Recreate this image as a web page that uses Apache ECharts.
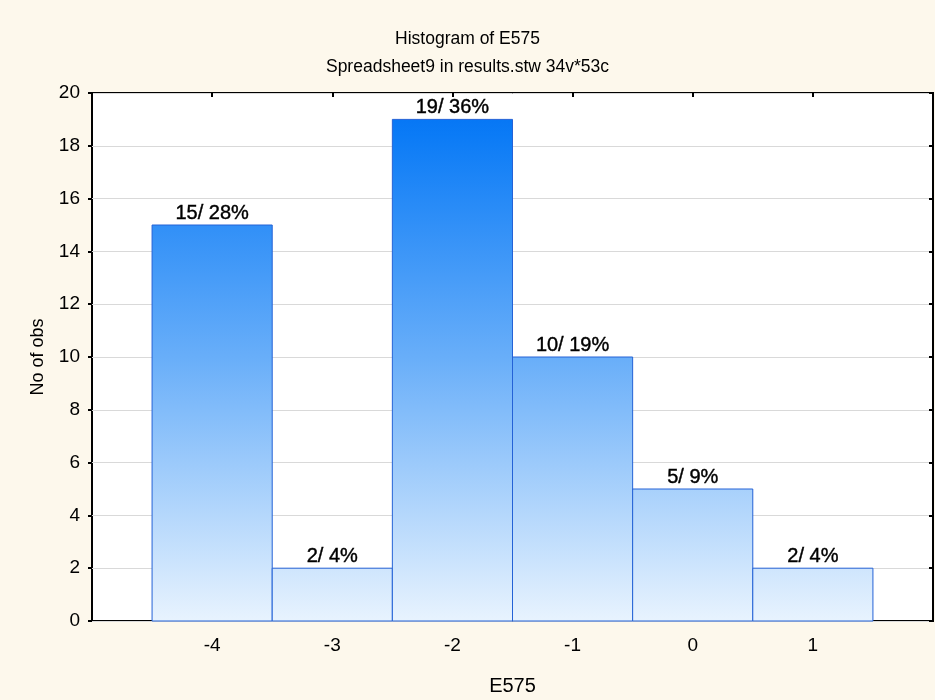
<!DOCTYPE html>
<html>
<head>
<meta charset="utf-8">
<title>Histogram of E575</title>
<script src="https://cdn.jsdelivr.net/npm/echarts@6/dist/echarts.min.js"></script>
<style>
  html, body { margin: 0; padding: 0; background: #FDF8EC; }
  #chart { width: 935px; height: 700px; }
</style>
</head>
<body>
<div id="chart"></div>
<script>
// Histogram bins: centre of each unit-wide bin, observation count and share of 53 cases
const binCenters = [-4, -3, -2, -1, 0, 1];
const counts = [15, 2, 19, 10, 5, 2];
const percents = [28, 4, 36, 19, 9, 4];
const xTickLabels = [-4, -3, -2, -1, 0, 1];
const yTickLabels = [0, 2, 4, 6, 8, 10, 12, 14, 16, 18, 20];
const binWidth = 1;

const FONT = "'Liberation Sans', Arial, sans-serif";

const chart = echarts.init(document.getElementById('chart'), null, { renderer: 'canvas' });

function renderBin(params, api) {
  const center = api.value(0);
  const count = api.value(1);
  const pct = api.value(2);
  const left = api.coord([center - binWidth / 2, count]);
  const right = api.coord([center + binWidth / 2, 0]);
  // gradient runs over the whole value range so that taller bars reach deeper blue
  const gTop = api.coord([0, yTickLabels[yTickLabels.length - 1]])[1];
  const gBottom = api.coord([0, 0])[1];
  const fill = new echarts.graphic.LinearGradient(0, gTop, 0, gBottom, [
    { offset: 0, color: '#0070F3' },
    { offset: 0.08, color: '#0B7BF6' },
    { offset: 0.5, color: '#68AEF9' },
    { offset: 1, color: '#E8F3FE' }
  ], true);
  const x = left[0];
  const y = left[1];
  const w = right[0] - left[0];
  const h = right[1] - left[1];
  return {
    type: 'group',
    children: [
      {
        type: 'rect',
        shape: { x: x, y: y, width: w, height: h },
        style: { fill: fill, stroke: '#2462D6', lineWidth: 1 }
      },
      {
        type: 'text',
        style: {
          text: count + '/ ' + pct + '%',
          x: x + w / 2,
          y: y - 2,
          align: 'center',
          verticalAlign: 'bottom',
          fill: '#000',
          stroke: '#000',
          lineWidth: 0.4,
          font: '20px ' + FONT
        },
        z2: 10
      }
    ]
  };
}

const tickStyle = { color: '#000', width: 2 };

const option = {
  backgroundColor: '#FDF8EC',
  animation: false,
  title: [
    {
      text: 'Histogram of E575',
      left: 'center',
      top: 25,
      textStyle: { fontFamily: FONT, fontSize: 17.5, fontWeight: 'normal', color: '#000' }
    },
    {
      text: 'Spreadsheet9 in results.stw 34v*53c',
      left: 'center',
      top: 53,
      textStyle: { fontFamily: FONT, fontSize: 17.5, fontWeight: 'normal', color: '#000' }
    }
  ],
  grid: {
    left: 92,
    right: 2,
    top: 93,
    bottom: 79,
    outerBoundsMode: 'none',
    containLabel: false,
    show: true,
    backgroundColor: '#FFFFFF',
    borderColor: '#000000',
    borderWidth: 2
  },
  xAxis: [
    {
      type: 'value',
      min: -5,
      max: 2,
      interval: 1,
      name: 'E575',
      nameLocation: 'middle',
      nameGap: 55,
      nameTextStyle: { fontFamily: FONT, fontSize: 20, color: '#000' },
      axisLine: { show: false, onZero: false },
      axisTick: { show: true, inside: true, length: 4, lineStyle: tickStyle },
      axisLabel: {
        fontFamily: FONT, fontSize: 19, color: '#000', margin: 15,
        showMinLabel: false, showMaxLabel: false,
        formatter: v => (xTickLabels.includes(v) ? String(v) : '')
      },
      splitLine: { show: false }
    },
    {
      type: 'value',
      position: 'top',
      min: -5,
      max: 2,
      interval: 1,
      axisLine: { show: false, onZero: false },
      axisTick: { show: true, inside: true, length: 4, lineStyle: tickStyle },
      axisLabel: { show: false },
      splitLine: { show: false }
    }
  ],
  yAxis: [
    {
      type: 'value',
      min: 0,
      max: 20,
      interval: 2,
      name: 'No of obs',
      nameLocation: 'middle',
      nameGap: 45,
      nameTextStyle: { fontFamily: FONT, fontSize: 18, color: '#000' },
      axisLine: { show: false, onZero: false },
      axisTick: { show: true, inside: false, length: 4, lineStyle: tickStyle },
      axisLabel: {
        fontFamily: FONT, fontSize: 19, color: '#000', margin: 12,
        formatter: v => (yTickLabels.includes(v) ? String(v) : '')
      },
      splitLine: { show: true, lineStyle: { color: '#D9D9D9', width: 1 } }
    },
    {
      type: 'value',
      position: 'right',
      min: 0,
      max: 20,
      interval: 2,
      axisLine: { show: false, onZero: false },
      axisTick: { show: true, inside: true, length: 4, lineStyle: tickStyle },
      axisLabel: { show: false },
      splitLine: { show: false }
    }
  ],
  series: [
    {
      type: 'custom',
      xAxisIndex: 0,
      yAxisIndex: 0,
      renderItem: renderBin,
      encode: { x: 0, y: 1 },
      data: binCenters.map((c, i) => [c, counts[i], percents[i]]),
      z: 5
    }
  ]
};

chart.setOption(option);
</script>
</body>
</html>
